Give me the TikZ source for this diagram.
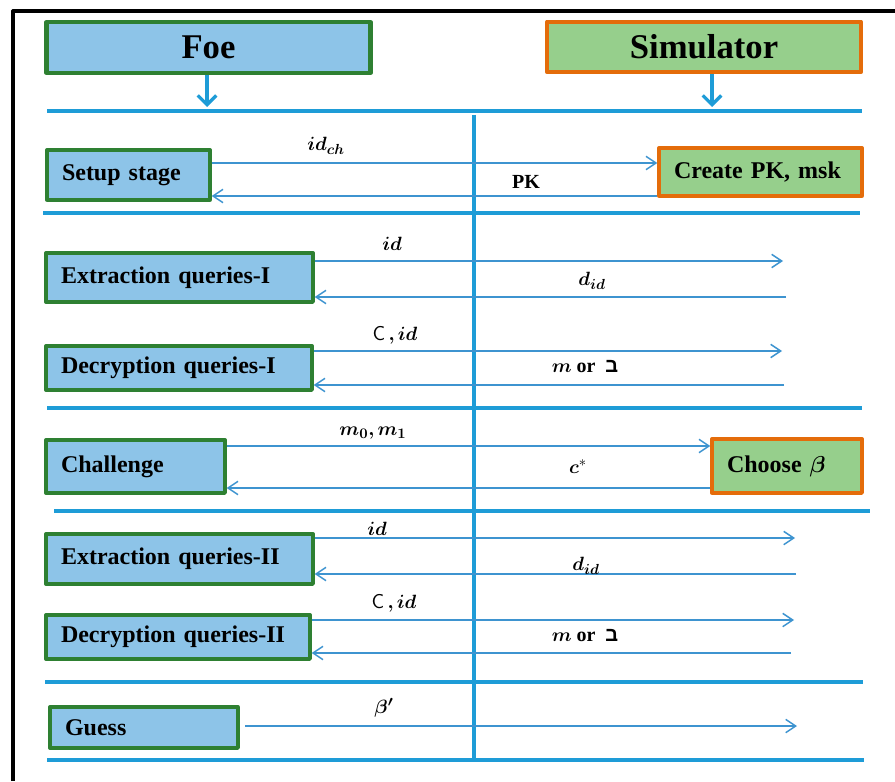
\documentclass[tikz,border=0pt]{standalone}
\usepackage{amsmath, bm}
\usepackage{fontspec}
\setmainfont{Liberation Serif}
\newfontfamily\hebfont[Script=Hebrew]{Liberation Sans}
\TeXXeTstate=1
\usepackage{tikz}
\usetikzlibrary{arrows.meta}
\definecolor{boxblue}{RGB}{141,196,232}
\definecolor{boxgreen}{RGB}{150,207,140}
\definecolor{edgegreen}{RGB}{46,128,50}
\definecolor{edgeorange}{RGB}{228,108,10}
\definecolor{lineblue}{RGB}{30,156,215}
\definecolor{msgblue}{RGB}{62,148,208}
\newcommand{\bet}{{\hebfont\bfseries\beginR ב\endR}}

\begin{document}
\begin{tikzpicture}[
		x=0.75pt, y=-0.75pt,
		line join=round,
		head/.style={draw, line width=3.2pt, minimum height=38pt,
				font=\fontsize{26}{30}\selectfont\bfseries},
		foebox/.style={draw=edgegreen, fill=boxblue, line width=2.5pt,
				align=left, inner xsep=11.25pt, inner ysep=2pt,
				font=\fontsize{18}{21}\selectfont\bfseries},
		simbox/.style={foebox, draw=edgeorange, fill=boxgreen},
		msg/.style={draw=msgblue, line width=1.1pt},
		tip/.style={-{Straight Barb[length=7.5pt,width=10pt]}},
		sep/.style={draw=lineblue, line width=2.6pt},
		down/.style={draw=lineblue, line width=2.4pt,
				-{Straight Barb[length=7pt,width=14pt]}},
		lbl/.style={font=\fontsize{15}{18}\selectfont\bfseries, inner sep=1pt}
	]
	\useasboundingbox (0,0) rectangle (895,781);

	% Frame
	\draw[line width=2.4pt] (13,781) -- (13,11) -- (895,11);

	% Parties
	\node[head, draw=edgegreen, fill=boxblue, minimum width=243pt] (foe) at (208.5,47.5) {Foe};
	\node[head, draw=edgeorange, fill=boxgreen, minimum width=235pt] (sim) at (704,47) {Simulator};
	\coordinate (foedown) at (207,107);
	\coordinate (simdown) at (712,107);
	\draw[down] (foe.south -| foedown) -- (foedown);
	\draw[down] (sim.south -| simdown) -- (simdown);

	% Stage separators
	\draw[sep] (47,111) -- (862,111);
	\draw[sep] (43,213) -- (860,213);
	\draw[sep] (47,408) -- (862,408);
	\draw[sep] (54,511) -- (870,511);
	\draw[sep] (45,682) -- (863,682);
	\draw[sep] (47,760) -- (864,760);
	\draw[sep] (474,115) -- (474,760);

	% Boxes
	\node[foebox, text width=99.75pt, minimum height=37.5pt] (setup) at (128.5,175) {Setup stage};
	\node[simbox, text width=129.75pt, minimum height=36pt] (create) at (760.5,172) {Create PK, msk};
	\node[foebox, text width=177.75pt, minimum height=36.75pt] (ext1) at (179.5,277.5) {Extraction queries-I};
	\node[foebox, text width=177pt, minimum height=33pt] (dec1) at (179,368) {Decryption queries-I};
	\node[foebox, text width=111.75pt, minimum height=39.75pt] (chal) at (135.5,466.5) {Challenge};
	\node[simbox, text width=90pt, minimum height=40.5pt] (choose) at (787,466) {Choose $\boldsymbol{\beta}$};
	\node[foebox, text width=177.75pt, minimum height=37.5pt] (ext2) at (179.5,559) {Extraction queries-II};
	\node[foebox, text width=175.5pt, minimum height=33pt] (dec2) at (178,637) {Decryption queries-II};
	\node[foebox, text width=118.5pt, minimum height=30.75pt] (guess) at (144,727.5) {Guess};

	% Message ends
	\coordinate (s1) at (652,163);
	\coordinate (s2) at (655,196);
	\coordinate (e1o) at (783,261);
	\coordinate (e1r) at (786,297);
	\coordinate (d1o) at (782,351);
	\coordinate (d1r) at (784,385);
	\coordinate (c1) at (708,446);
	\coordinate (c2) at (707,488);
	\coordinate (e2o) at (795,538);
	\coordinate (e2r) at (796,574);
	\coordinate (d2o) at (794,620);
	\coordinate (d2r) at (791,653);
	\coordinate (g1) at (797,726);

	% Messages
	\draw[msg, tip] (setup.east |- s1) -- (create.west |- s1);
	\draw[msg, tip] (create.west |- s2) -- (setup.east |- s2);
	\draw[msg, tip] (ext1.east |- e1o) -- (e1o);
	\draw[msg, tip] (e1r) -- (ext1.east |- e1r);
	\draw[msg, tip] (dec1.east |- d1o) -- (d1o);
	\draw[msg, tip] (d1r) -- (dec1.east |- d1r);
	\draw[msg, tip] (chal.east |- c1) -- (choose.west |- c1);
	\draw[msg, tip] (choose.west |- c2) -- (chal.east |- c2);
	\draw[msg, tip] (ext2.east |- e2o) -- (e2o);
	\draw[msg, tip] (e2r) -- (ext2.east |- e2r);
	\draw[msg, tip] (dec2.east |- d2o) -- (d2o);
	\draw[msg, tip] (d2r) -- (dec2.east |- d2r);
	\draw[msg, tip] ([xshift=4pt]guess.east |- g1) -- (g1);

	% Labels
	\node[lbl] (lidch) at (326,146) {$\boldsymbol{id_{ch}}$};
	\node[lbl] (lpk) at (526,182) {PK};
	\node[lbl] (lid1) at (392,244) {$\boldsymbol{id}$};
	\node[lbl] (ldid1) at (592,281) {$\boldsymbol{d_{id}}$};
	\node[lbl] (lcid1) at (395,335) {\textsf{\mdseries C}\,$\boldsymbol{,id}$};
	\node[lbl] (lmor1) at (585,367) {$\boldsymbol{m}$ or\enspace\bet};
	\node[lbl] (lm01) at (373,433) {$\boldsymbol{m_0,m_1}$};
	\node[lbl] (lcs) at (578,467) {$\boldsymbol{c}^{*}$};
	\node[lbl] (lid2) at (377,529) {$\boldsymbol{id}$};
	\node[lbl] (ldid2) at (586,566) {$\boldsymbol{d_{id}}$};
	\node[lbl] (lcid2) at (394,603) {\textsf{\mdseries C}\,$\boldsymbol{,id}$};
	\node[lbl] (lmor2) at (585,636) {$\boldsymbol{m}$ or\enspace\bet};
	\node[lbl] (lbeta) at (384,708) {$\boldsymbol{\beta'}$};
\end{tikzpicture}
\end{document}
